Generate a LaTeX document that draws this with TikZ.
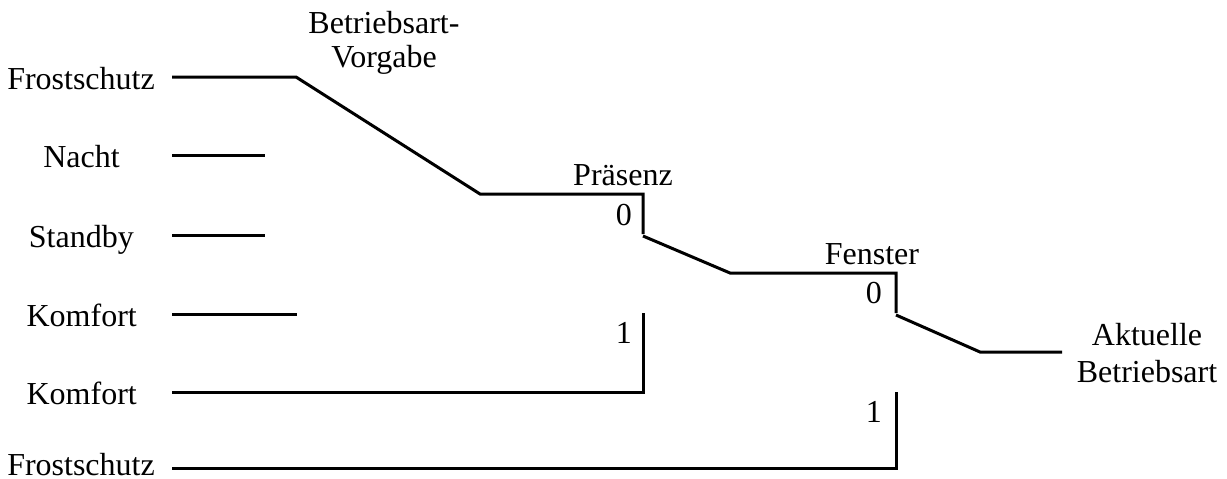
\documentclass[tikz,border=0pt]{standalone}
\usepackage{fontspec}
\setmainfont{Liberation Serif}
\begin{document}
\begin{tikzpicture}[x=1pt,y=-1pt,
  lbl/.style={inner sep=0pt,font=\fontsize{32}{35}\selectfont},
  wire/.style={line width=3pt,line cap=butt,line join=miter}]
\useasboundingbox (0,0) rectangle (1227,479);
% left labels
\node[lbl,anchor=base east] (fs1) at (155,89) {Frostschutz};
\node[lbl,anchor=base east] (na) at (120,167) {Nacht};
\node[lbl,anchor=base east] (sb) at (134,247) {Standby};
\node[lbl,anchor=base east] (k1) at (137,326) {Komfort};
\node[lbl,anchor=base east] (k2) at (137,404) {Komfort};
\node[lbl,anchor=base east] (fs2) at (155,475) {Frostschutz};
% top labels
\node[lbl,align=center,anchor=base] (bv) at (384,67) {Betriebsart-\\[-1pt]Vorgabe};
\node[lbl,anchor=base] (pr) at (623,185) {Präsenz};
\node[lbl,anchor=base] (fe) at (872,264) {Fenster};
\node[lbl,anchor=base east] (p0) at (632,225) {0};
\node[lbl,anchor=base east] (p1) at (632,343) {1};
\node[lbl,anchor=base east] (f0) at (882,303) {0};
\node[lbl,anchor=base east] (f1) at (882,422) {1};
\node[lbl,align=center,anchor=base] (ab) at (1147,382) {Aktuelle\\[2pt]Betriebsart};
% coordinates
\coordinate (a0) at (172,77);
\coordinate (a1) at (296,77);
\coordinate (a2) at (480,194);
\coordinate (a3) at (643,194);
\coordinate (a4) at (643,234);
\coordinate (b0) at (172,155);
\coordinate (b1) at (265,155);
\coordinate (c0) at (172,235);
\coordinate (c1) at (265,235);
\coordinate (d0) at (172,314);
\coordinate (d1) at (297,314);
\coordinate (e0) at (172,392);
\coordinate (e1) at (643,392);
\coordinate (e2) at (643,313);
\coordinate (s0) at (643,236);
\coordinate (s1) at (730,273);
\coordinate (s2) at (896,273);
\coordinate (s3) at (896,313);
\coordinate (t0) at (896,315);
\coordinate (t1) at (980,352);
\coordinate (t2) at (1062,352);
\coordinate (g0) at (172,468);
\coordinate (g1) at (896,468);
\coordinate (g2) at (896,392);
% wires
\draw[wire] (a0) -- (a1) -- (a2) -- (a3) -- (a4);
\draw[wire] (b0) -- (b1);
\draw[wire] (c0) -- (c1);
\draw[wire] (d0) -- (d1);
\draw[wire] (e0) -- (e1) -- (e2);
\draw[wire] (s0) -- (s1) -- (s2) -- (s3);
\draw[wire] (t0) -- (t1) -- (t2);
\draw[wire] (g0) -- (g1) -- (g2);
\end{tikzpicture}
\end{document}
